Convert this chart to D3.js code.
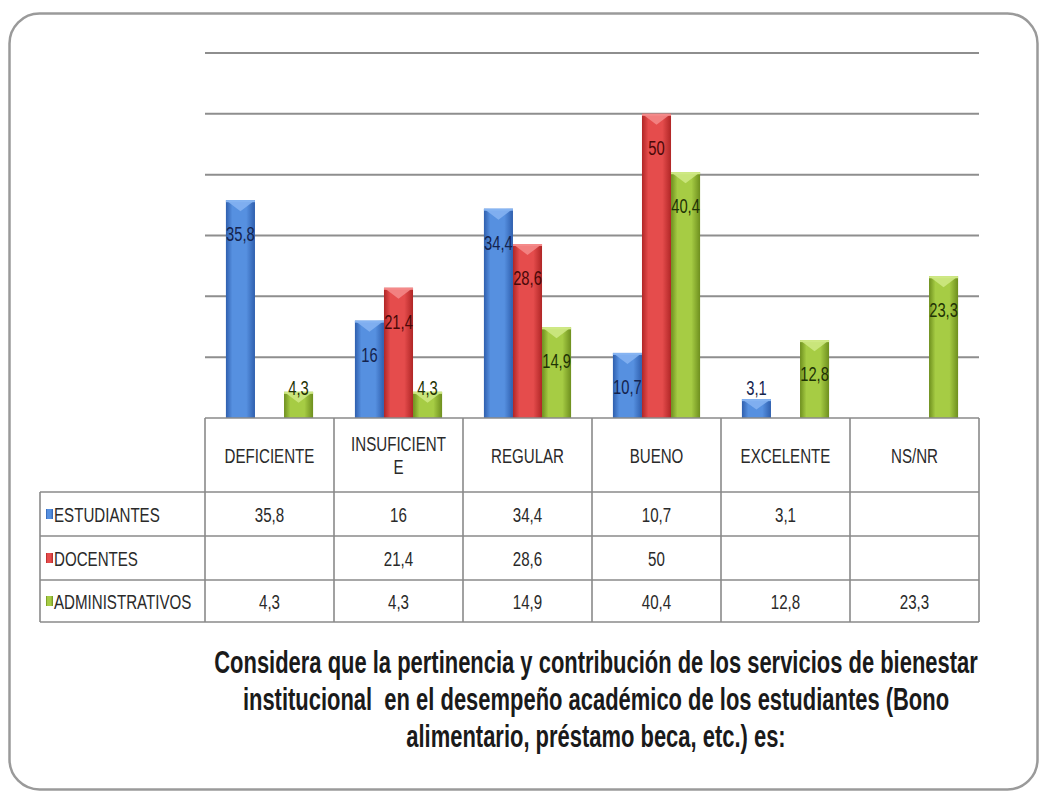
<!DOCTYPE html>
<html>
<head>
<meta charset="utf-8">
<script src="https://cdn.jsdelivr.net/npm/d3@7"></script>
<style>
  html, body { margin: 0; padding: 0; background: #fff; }
  svg { display: block; }
</style>
</head>
<body>
<script>
// Categories (column headers) and the wrapped header lines of the data table
const categories = ["DEFICIENTE", "INSUFICIENTE", "REGULAR", "BUENO", "EXCELENTE", "NS/NR"];
const headerLines = [["DEFICIENTE"], ["INSUFICIENT", "E"], ["REGULAR"], ["BUENO"], ["EXCELENTE"], ["NS/NR"]];

// Series
const seriesNames = ["ESTUDIANTES", "DOCENTES", "ADMINISTRATIVOS"];
const estudiantes = [35.8, 16, 34.4, 10.7, 3.1, null];
const docentes = [null, 21.4, 28.6, 50, null, null];
const administrativos = [4.3, 4.3, 14.9, 40.4, 12.8, 23.3];

// Value axis ticks (gridlines)
const yTicks = [0, 10, 20, 30, 40, 50, 60];

const titleLines = [
  "Considera que la pertinencia y contribución de los servicios de bienestar",
  "institucional  en el desempeño académico de los estudiantes (Bono",
  "alimentario, préstamo beca, etc.) es:"
];

const seriesValues = [estudiantes, docentes, administrativos];

const W = 1039, H = 791;
const palette = {
  ESTUDIANTES:     { mid: "#5690e0", edge: "#2f5fae", cap: "#86b4f2", text: "#14234e" },
  DOCENTES:        { mid: "#e54c4c", edge: "#b02626", cap: "#f48a8a", text: "#4a0808" },
  ADMINISTRATIVOS: { mid: "#a6cc44", edge: "#6e8f1e", cap: "#cfe985", text: "#1f3305" }
};

const fontFamily = "'Liberation Sans', Arial, sans-serif";
const squeeze = 0.72;   // narrow lettering used throughout

// decimal comma
const fmt = v => String(v).replace(".", ",");

const svg = d3.select("body").append("svg")
  .attr("width", W).attr("height", H)
  .attr("viewBox", `0 0 ${W} ${H}`);

const defs = svg.append("defs");
seriesNames.forEach((name, i) => {
  const c = palette[name];
  const g = defs.append("linearGradient").attr("id", "grad" + i)
    .attr("x1", "0%").attr("x2", "100%").attr("y1", "0%").attr("y2", "0%");
  g.append("stop").attr("offset", "0%").attr("stop-color", c.edge);
  g.append("stop").attr("offset", "22%").attr("stop-color", c.mid);
  g.append("stop").attr("offset", "70%").attr("stop-color", c.mid);
  g.append("stop").attr("offset", "100%").attr("stop-color", c.edge);
});

// Frame
svg.append("rect")
  .attr("x", 9.5).attr("y", 13.5).attr("width", 1028).attr("height", 776)
  .attr("rx", 30).attr("ry", 30)
  .attr("fill", "#fff").attr("stroke", "#9a9a9a").attr("stroke-width", 2.5);

// Scales
const plotLeft = 205, plotRight = 979;
const x = d3.scaleBand().domain(categories).range([plotLeft, plotRight]).padding(0);
const xs = d3.scaleBand().domain(seriesNames).range([0, x.bandwidth()])
  .paddingInner(0).paddingOuter(0.72);
const y = d3.scaleLinear().domain([0, 60]).range([418, 53]);

// Gridlines
svg.append("g").selectAll("line").data(yTicks.filter(t => t > 0)).join("line")
  .attr("x1", plotLeft).attr("x2", plotRight)
  .attr("y1", d => y(d)).attr("y2", d => y(d))
  .attr("stroke", "#8e8e8e").attr("stroke-width", 2);

// helper for narrowed text
function ntext(sel, tx, ty, size, weight, color, anchor) {
  return sel.append("text")
    .attr("transform", `translate(${tx},${ty}) scale(${squeeze},1)`)
    .attr("font-family", fontFamily)
    .attr("font-size", size)
    .attr("font-weight", weight || "normal")
    .attr("fill", color || "#222")
    .attr("text-anchor", anchor || "middle")
    .style("white-space", "pre");
}

// Bars
const bars = [];
seriesNames.forEach((name, si) => {
  seriesValues[si].forEach((v, ci) => {
    if (v == null) return;
    bars.push({ name, si, cat: categories[ci], v });
  });
});

const barG = svg.append("g");
bars.forEach(b => {
  const x0 = x(b.cat) + xs(b.name);
  const w = xs.bandwidth();
  const y0 = y(b.v), y1 = y(0);
  const h = y1 - y0;
  const c = palette[b.name];
  const g = barG.append("g");
  g.append("rect").attr("x", x0).attr("y", y0).attr("width", w).attr("height", h)
    .attr("fill", `url(#grad${b.si})`);
  // bevelled cap
  const d = Math.min(11, h * 0.55);
  g.append("path")
    .attr("d", `M${x0},${y0} L${x0 + w},${y0} L${x0 + w / 2},${y0 + d} Z`)
    .attr("fill", c.cap).attr("opacity", 0.85);
  g.append("rect").attr("x", x0).attr("y", y0).attr("width", w).attr("height", 2)
    .attr("fill", c.cap);
  // value label
  const cy = Math.min(y0 + 34, y(0) - 30);
  ntext(g, x0 + w / 2, cy + 7, 20.5, "normal", c.text, "middle").text(fmt(b.v));
});

// Data table
const tbl = svg.append("g");
const rowTop = [492, 536, 580];
const rowBottom = 622;
const tableLeft = 40;
const lineColor = "#8a8a8a";

tbl.append("line").attr("x1", plotLeft).attr("x2", plotRight).attr("y1", y(0)).attr("y2", y(0))
  .attr("stroke", lineColor).attr("stroke-width", 1.6);
[...rowTop, rowBottom].forEach(yy => {
  tbl.append("line").attr("x1", tableLeft).attr("x2", plotRight).attr("y1", yy).attr("y2", yy)
    .attr("stroke", lineColor).attr("stroke-width", 1.6);
});
const colEdges = categories.map(c => x(c)).concat([plotRight]);
colEdges.forEach(xx => {
  tbl.append("line").attr("x1", xx).attr("x2", xx).attr("y1", y(0)).attr("y2", rowBottom)
    .attr("stroke", lineColor).attr("stroke-width", 1.6);
});
tbl.append("line").attr("x1", tableLeft).attr("x2", tableLeft).attr("y1", rowTop[0]).attr("y2", rowBottom)
  .attr("stroke", lineColor).attr("stroke-width", 1.6);

// header labels
categories.forEach((c, ci) => {
  const lines = headerLines[ci];
  const cx = x(c) + x.bandwidth() / 2;
  const mid = (y(0) + rowTop[0]) / 2;
  const lh = 23;
  lines.forEach((ln, li) => {
    const by = mid + 7.5 + (li - (lines.length - 1) / 2) * lh;
    ntext(tbl, cx, by, 21, "normal", "#2a2a2a", "middle").text(ln);
  });
});

// rows: legend key, series name and values
seriesNames.forEach((name, si) => {
  const top = rowTop[si];
  const bottom = si < 2 ? rowTop[si + 1] : rowBottom;
  const mid = (top + bottom) / 2;
  tbl.append("rect").attr("x", 46).attr("y", mid - 5).attr("width", 7).attr("height", 10)
    .attr("fill", `url(#grad${si})`);
  ntext(tbl, 54, mid + 7.5, 21, "normal", "#2a2a2a", "start").text(name);
  seriesValues[si].forEach((v, ci) => {
    if (v == null) return;
    ntext(tbl, x(categories[ci]) + x.bandwidth() / 2, mid + 7.5, 21, "normal", "#2a2a2a", "middle")
      .text(fmt(v));
  });
});

// Title
titleLines.forEach((t, i) => {
  ntext(svg, 596, 673 + i * 37, 30.5, "bold", "#1a1a1a", "middle").text(t);
});
</script>
</body>
</html>
